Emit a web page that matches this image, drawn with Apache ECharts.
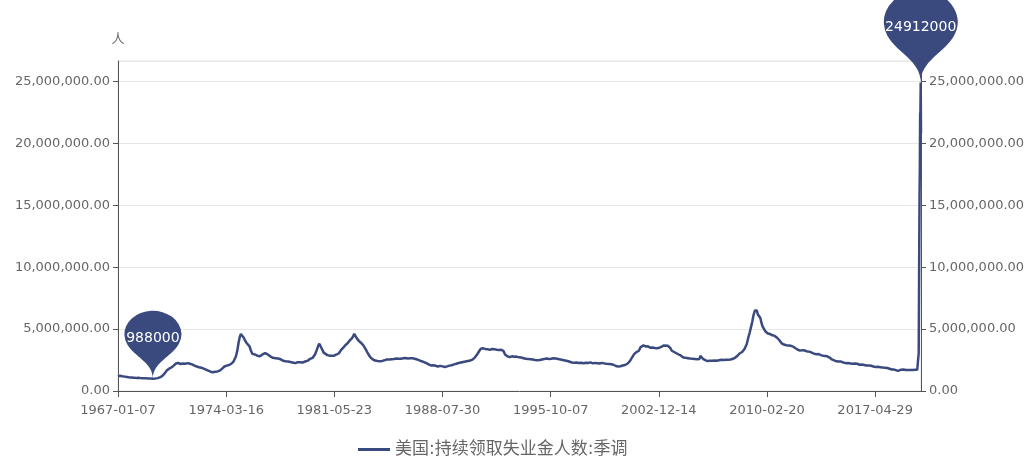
<!DOCTYPE html>
<html><head><meta charset="utf-8">
<script src="https://cdn.jsdelivr.net/npm/echarts@6/dist/echarts.min.js"></script>
<style>html,body{margin:0;padding:0;background:#fff}#c{width:1031px;height:457px}</style>
</head><body><div id="c"></div>
<script>
const seriesName = '美国:持续领取失业金人数:季调';
const yAxisName = '人';
const startDate = '1967-01-07';
const xTickLabels = ['1967-01-07','1974-03-16','1981-05-23','1988-07-30','1995-10-07','2002-12-14','2010-02-20','2017-04-29'];
const yTickValues = [0, 5000000, 10000000, 15000000, 20000000, 25000000];

const dates = [
'1967-01-07','1967-02-25','1967-04-22','1967-06-17','1967-08-12','1967-10-07','1967-12-02',
'1968-01-27','1968-03-23','1968-05-18','1968-07-13','1968-09-07','1968-11-02',
'1969-01-04','1969-03-01','1969-05-03','1969-06-28','1969-08-23','1969-10-18','1969-12-13',
'1970-02-07','1970-04-04','1970-05-30','1970-07-25','1970-09-19','1970-11-14',
'1971-01-09','1971-03-06','1971-05-01','1971-06-26','1971-08-21','1971-10-16','1971-12-11',
'1972-02-05','1972-04-01','1972-05-27','1972-07-22','1972-09-16','1972-11-11',
'1973-01-06','1973-03-03','1973-04-28','1973-06-23','1973-08-18','1973-10-13','1973-12-08',
'1974-02-02','1974-03-30','1974-05-25','1974-07-20','1974-09-14','1974-11-09','1974-12-14',
'1975-01-11','1975-02-08','1975-03-08','1975-03-29','1975-04-19','1975-05-17','1975-06-14','1975-07-19','1975-08-23','1975-10-04','1975-11-08','1975-12-13',
'1976-02-14','1976-04-10','1976-06-12','1976-08-14','1976-10-16','1976-12-18',
'1977-02-19','1977-04-23','1977-06-25','1977-08-27','1977-10-29','1977-12-24',
'1978-02-25','1978-04-29','1978-06-10','1978-08-12','1978-10-14','1978-12-16',
'1979-02-10','1979-04-14','1979-06-16','1979-08-18','1979-10-13','1979-12-15',
'1980-02-09','1980-03-22','1980-04-26','1980-05-24','1980-06-28','1980-08-02','1980-09-06','1980-10-11','1980-12-06',
'1981-02-07','1981-03-21','1981-05-16','1981-07-18','1981-09-12','1981-10-31','1981-12-26',
'1982-02-13','1982-04-10','1982-06-05','1982-07-24','1982-08-28','1982-09-18','1982-10-16','1982-11-20',
'1983-01-08','1983-02-26','1983-04-23','1983-06-18','1983-08-13','1983-10-08','1983-12-03',
'1984-02-04','1984-04-07','1984-06-02','1984-07-28','1984-09-22','1984-11-17',
'1985-01-12','1985-03-16','1985-05-11','1985-07-06','1985-08-31','1985-10-26','1985-12-21',
'1986-02-15','1986-04-12','1986-06-07','1986-08-02','1986-09-27','1986-11-22',
'1987-01-17','1987-03-14','1987-05-09','1987-07-04','1987-08-29','1987-10-24','1987-12-19',
'1988-02-13','1988-04-09','1988-06-04','1988-07-30','1988-09-24','1988-11-19',
'1989-01-14','1989-03-11','1989-05-06','1989-07-01','1989-08-26','1989-10-21','1989-12-16',
'1990-02-10','1990-04-07','1990-06-02','1990-07-28','1990-09-22','1990-11-17',
'1991-01-12','1991-02-16','1991-04-06','1991-06-01','1991-07-27','1991-09-21','1991-11-16',
'1992-01-11','1992-03-07','1992-05-02','1992-06-27','1992-08-15','1992-09-26','1992-11-21',
'1993-01-16','1993-03-13','1993-05-08','1993-07-03','1993-08-28','1993-10-23','1993-12-18',
'1994-02-12','1994-04-09','1994-06-04','1994-07-30','1994-09-24','1994-11-19',
'1995-01-14','1995-03-11','1995-05-06','1995-07-01','1995-08-26','1995-10-21','1995-12-16',
'1996-02-10','1996-04-06','1996-06-01','1996-07-27','1996-09-21','1996-11-16',
'1997-01-11','1997-03-08','1997-05-03','1997-06-28','1997-08-23','1997-10-18','1997-12-13',
'1998-02-07','1998-04-04','1998-05-30','1998-07-25','1998-09-19','1998-11-14',
'1999-01-09','1999-03-06','1999-05-01','1999-06-26','1999-08-21','1999-10-16','1999-12-11',
'2000-02-05','2000-04-01','2000-05-27','2000-07-22','2000-09-16','2000-11-11',
'2001-01-06','2001-03-03','2001-04-28','2001-06-23','2001-08-18','2001-09-29','2001-11-03','2001-12-08',
'2002-01-26','2002-03-23','2002-05-18','2002-07-13','2002-09-07','2002-11-02','2002-12-28',
'2003-02-22','2003-04-19','2003-05-24','2003-07-19','2003-09-13','2003-10-25','2003-12-20',
'2004-02-14','2004-04-10','2004-06-05','2004-07-31','2004-09-25','2004-11-20',
'2005-01-15','2005-03-12','2005-05-07','2005-07-02','2005-08-27','2005-09-17','2005-10-15','2005-11-19',
'2006-01-14','2006-03-11','2006-05-06','2006-07-01','2006-08-26','2006-10-21','2006-12-16',
'2007-02-10','2007-04-07','2007-06-02','2007-07-28','2007-09-22','2007-11-17',
'2008-01-12','2008-03-08','2008-05-03','2008-06-28','2008-08-23','2008-10-18','2008-11-22','2008-12-27',
'2009-01-31','2009-02-28','2009-03-28','2009-05-02','2009-05-30','2009-06-20','2009-07-11','2009-08-08','2009-09-12','2009-10-10','2009-11-07','2009-12-12',
'2010-01-16','2010-03-13','2010-05-08','2010-07-03','2010-08-28','2010-10-23','2010-12-18',
'2011-02-12','2011-04-09','2011-06-04','2011-07-30','2011-09-24','2011-11-19',
'2012-01-14','2012-03-10','2012-05-05','2012-06-30','2012-08-25','2012-10-20','2012-12-15',
'2013-02-09','2013-04-06','2013-06-01','2013-07-27','2013-09-21','2013-11-16','2013-12-28',
'2014-02-22','2014-04-19','2014-06-14','2014-08-09','2014-10-04','2014-11-29',
'2015-01-24','2015-03-21','2015-05-16','2015-07-11','2015-09-05','2015-10-31','2015-12-26',
'2016-02-20','2016-04-16','2016-06-11','2016-08-06','2016-10-01','2016-11-26',
'2017-01-21','2017-03-18','2017-05-13','2017-07-08','2017-09-02','2017-10-28','2017-12-23',
'2018-02-17','2018-04-14','2018-06-09','2018-08-04','2018-09-29','2018-11-24',
'2019-01-19','2019-03-16','2019-05-11','2019-07-06','2019-08-31','2019-10-26','2019-12-21',
'2020-02-15','2020-03-14','2020-03-21','2020-03-28','2020-04-04','2020-04-11','2020-04-18','2020-04-25','2020-05-02','2020-05-09','2020-05-16'
];

const claims = [
1180000,1230000,1190000,1160000,1130000,1100000,1090000,
1080000,1060000,1070000,1040000,1030000,1040000,
1010000,1000000,988000,1010000,1040000,1100000,1200000,
1400000,1650000,1800000,1900000,2050000,2220000,
2260000,2180000,2220000,2200000,2250000,2200000,2150000,
2050000,1980000,1920000,1880000,1800000,1720000,
1640000,1560000,1520000,1550000,1580000,1650000,1800000,
1980000,2050000,2100000,2200000,2400000,2800000,3300000,
3900000,4350000,4600000,4620000,4450000,4300000,4100000,3900000,3750000,3600000,3250000,3000000,
2950000,2850000,2800000,2950000,3050000,2950000,
2800000,2680000,2650000,2620000,2560000,2450000,
2400000,2380000,2250000,2300000,2250000,2320000,
2330000,2300000,2380000,2450000,2600000,2680000,
2950000,3300000,3650000,3820000,3700000,3350000,3100000,2950000,2900000,
2850000,2770000,2850000,2950000,3050000,3300000,3500000,
3700000,3850000,4100000,4250000,4450000,4620000,4550000,4250000,
4050000,3900000,3700000,3400000,3050000,2750000,2580000,
2460000,2420000,2400000,2430000,2480000,2550000,
2540000,2570000,2590000,2620000,2600000,2610000,2640000,
2660000,2620000,2640000,2650000,2600000,2550000,
2480000,2400000,2330000,2250000,2150000,2060000,2080000,
2040000,1980000,2030000,1990000,1940000,1990000,
2050000,2080000,2150000,2200000,2260000,2300000,2340000,
2380000,2420000,2460000,2530000,2700000,2950000,
3250000,3420000,3450000,3400000,3380000,3320000,3400000,
3380000,3330000,3310000,3330000,3250000,2950000,2800000,
2750000,2800000,2760000,2780000,2720000,2700000,2650000,
2600000,2580000,2560000,2540000,2500000,2480000,
2500000,2540000,2580000,2620000,2580000,2600000,2640000,
2620000,2580000,2540000,2500000,2460000,2420000,
2360000,2300000,2280000,2300000,2260000,2280000,2240000,
2280000,2260000,2310000,2230000,2270000,2250000,
2220000,2270000,2230000,2200000,2190000,2160000,2120000,
2020000,1980000,2000000,2060000,2100000,2200000,
2400000,2700000,3000000,3150000,3250000,3550000,3700000,3680000,
3600000,3620000,3500000,3520000,3480000,3450000,3500000,
3580000,3680000,3770000,3650000,3500000,3250000,3150000,
3050000,2950000,2850000,2700000,2680000,2650000,
2620000,2600000,2580000,2560000,2580000,2850000,2780000,2600000,
2500000,2420000,2440000,2450000,2470000,2440000,2480000,
2520000,2500000,2530000,2520000,2540000,2600000,
2700000,2850000,3050000,3150000,3400000,3800000,4300000,4700000,
5200000,5600000,6100000,6500000,6640000,6500000,6200000,6100000,5900000,5500000,5200000,5000000,
4800000,4650000,4600000,4500000,4450000,4300000,4100000,
3850000,3750000,3700000,3680000,3650000,3580000,
3450000,3330000,3260000,3300000,3270000,3200000,3180000,
3100000,3020000,2970000,2980000,2900000,2850000,2950000,
2800000,2700000,2550000,2480000,2400000,2380000,
2380000,2300000,2250000,2260000,2230000,2200000,2230000,
2200000,2120000,2140000,2100000,2060000,2050000,
2040000,1980000,1940000,1950000,1920000,1890000,1880000,
1860000,1800000,1740000,1730000,1660000,1640000,
1720000,1740000,1690000,1690000,1690000,1700000,1710000,
1720000,1702000,3059000,7446000,11914000,15819000,18011000,22377000,22548000,24912000,20838000
];

const WEEK_MS = 7 * 24 * 3600 * 1000;
const TICK_WEEKS = 375;
const weekIndex = d => Math.round((Date.parse(d) - Date.parse(startDate)) / WEEK_MS);
const points = dates.map((d, i) => [weekIndex(d), claims[i]]);
const lastIdx = weekIndex(dates[dates.length - 1]);
const yMax = Math.max(...claims) * 1.07;
const fmt = v => Number(v).toLocaleString('en-US', {minimumFractionDigits: 2, maximumFractionDigits: 2});

const mainColor = '#3a4a7e';
const txt = '#666';
const font = 'DejaVu Sans, Noto Sans CJK SC, sans-serif';

function yAxisCfg(pos, name) {
  return {
    type: 'value', position: pos, min: 0, max: yMax, interval: 5000000,
    name: name, nameTextStyle: {color: txt, fontSize: 13, fontFamily: font},
    axisLine: {show: true, lineStyle: {color: '#555'}},
    axisTick: {show: true, length: 5, lineStyle: {color: '#555'}, customValues: yTickValues},
    axisLabel: {color: txt, fontSize: 13, fontFamily: font, formatter: fmt, customValues: yTickValues},
    splitLine: {show: false}
  };
}

const chart = echarts.init(document.getElementById('c'));
chart.setOption({
  backgroundColor: '#fff',
  animation: false,
  grid: {left: 118, right: 110, top: 61, bottom: 66, containLabel: false,
         show: true, borderColor: '#e6e6e6', borderWidth: 1, backgroundColor: 'transparent'},
  legend: {
    bottom: -6, left: 353, icon: 'rect', itemWidth: 32, itemHeight: 3,
    textStyle: {color: txt, fontSize: 17, fontFamily: font},
    data: [seriesName]
  },
  xAxis: {
    type: 'value', min: 0, max: lastIdx, interval: TICK_WEEKS,
    axisLine: {show: true, onZero: false, lineStyle: {color: '#555'}},
    axisTick: {show: true, length: 6, lineStyle: {color: '#555'}},
    axisLabel: {color: txt, fontSize: 13, fontFamily: font, showMaxLabel: false, margin: 13,
      formatter: v => xTickLabels[Math.round(v / TICK_WEEKS)] || ''},
    splitLine: {show: false}
  },
  yAxis: [
    yAxisCfg('left', yAxisName),
    yAxisCfg('right', ''),
    {type: 'value', position: 'left', min: 0, max: yMax, interval: 5000000,
     axisLine: {show: false}, axisTick: {show: false}, axisLabel: {show: false},
     splitLine: {show: true, lineStyle: {color: '#e6e6e6'}}}
  ],
  series: [{
    name: seriesName, type: 'line', yAxisIndex: 0, data: points,
    symbol: 'none', showSymbol: false,
    lineStyle: {color: mainColor, width: 2.5},
    itemStyle: {color: mainColor},
    markPoint: {
      symbol: 'pin',
      itemStyle: {color: mainColor},
      label: {color: '#fff', fontSize: 14, fontFamily: font},
      data: [
        {type: 'max', valueIndex: 1, symbolSize: [123, 106]},
        {type: 'min', valueIndex: 1, symbolSize: [95, 78]}
      ]
    }
  }]
});
</script></body></html>
